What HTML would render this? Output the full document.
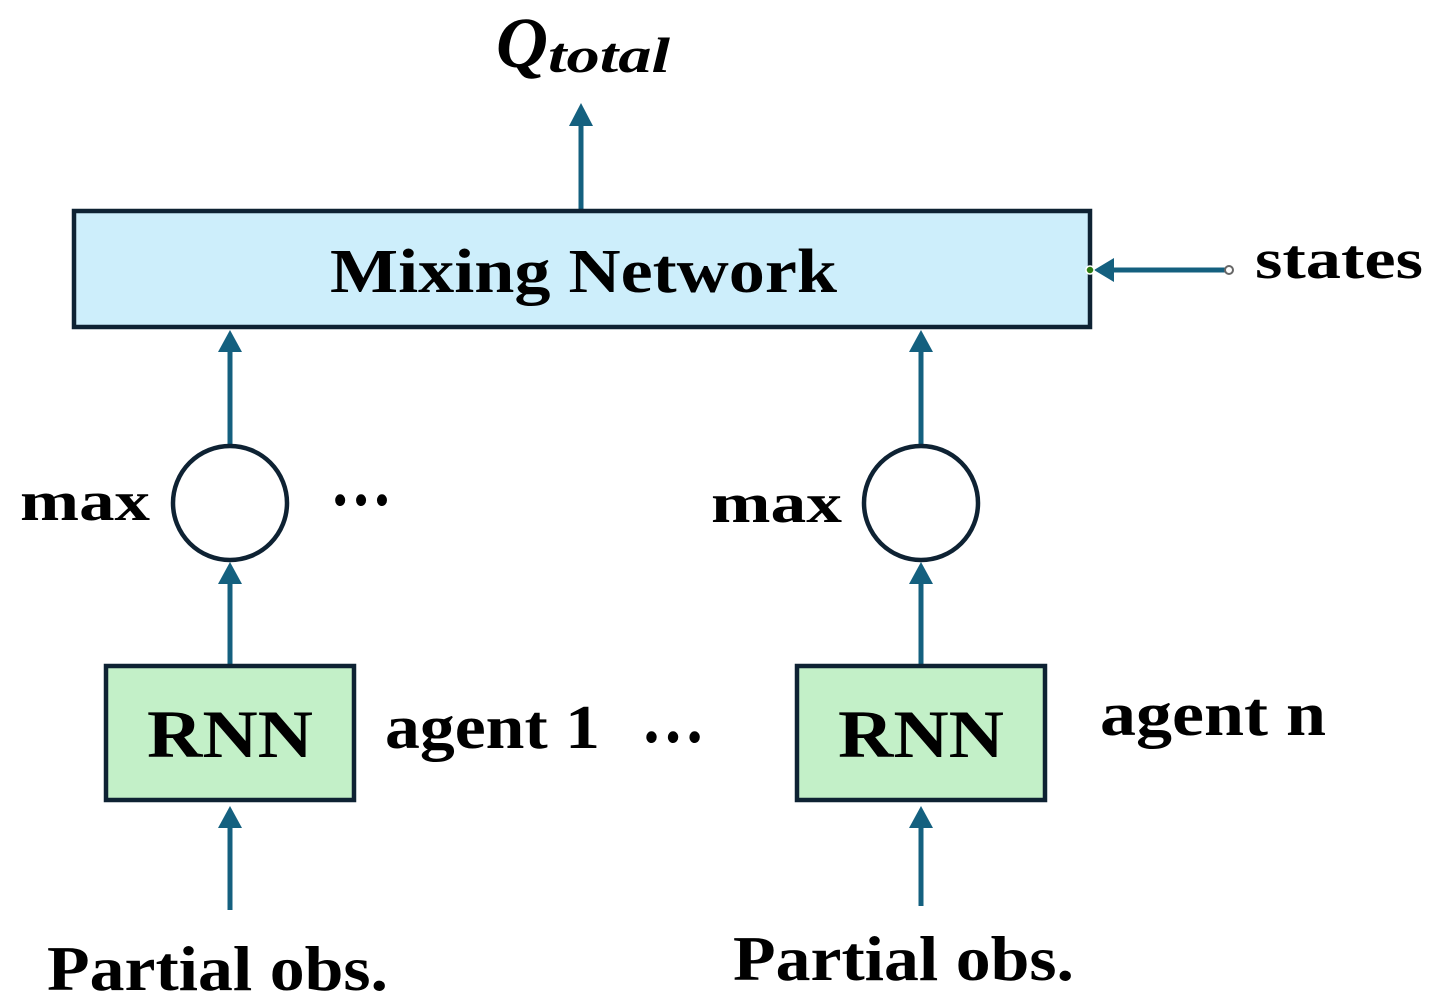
<!DOCTYPE html>
<html><head><style>html,body{margin:0;padding:0;background:#fff;}svg{display:block}</style></head><body>
<svg width="1445" height="1008" xmlns="http://www.w3.org/2000/svg" font-family="'Liberation Serif', serif" font-weight="bold">
<g stroke="#14607f" stroke-width="5" fill="none">
<line x1="581" y1="210" x2="581" y2="126"/>
<line x1="230" y1="444" x2="230" y2="352"/>
<line x1="230" y1="665" x2="230" y2="584"/>
<line x1="230" y1="910" x2="230" y2="828"/>
<line x1="921" y1="444" x2="921" y2="352"/>
<line x1="921" y1="665" x2="921" y2="584"/>
<line x1="921" y1="906" x2="921" y2="828"/>
<line x1="1228" y1="270" x2="1114" y2="270"/>
</g>
<g fill="#14607f">
<path d="M569,126L593,126L581,103z"/>
<path d="M218,352L242,352L230,330z"/>
<path d="M218,584L242,584L230,562z"/>
<path d="M218,828L242,828L230,806z"/>
<path d="M909,352L933,352L921,330z"/>
<path d="M909,584L933,584L921,562z"/>
<path d="M909,828L933,828L921,806z"/>
<path d="M1114,258L1114,282L1094,270z"/>
</g>
<rect x="74" y="211" width="1016" height="116" fill="#cdeefb" stroke="#0e2233" stroke-width="4.5"/>
<circle cx="1090" cy="270" r="4" fill="#2e7d12" stroke="#fff" stroke-width="1.5"/>
<circle cx="1229" cy="270" r="4" fill="#fff" stroke="#666" stroke-width="2"/>
<circle cx="230" cy="503" r="57" fill="#fff" stroke="#0e2233" stroke-width="4.5"/>
<circle cx="921" cy="503" r="57" fill="#fff" stroke="#0e2233" stroke-width="4.5"/>
<rect x="106" y="666" width="248" height="134" fill="#c3f0c8" stroke="#0e2233" stroke-width="4.5"/>
<rect x="797" y="666" width="248" height="134" fill="#c3f0c8" stroke="#0e2233" stroke-width="4.5"/>
<g fill="#000">
<text x="496" y="67" font-size="72" font-style="italic">Q</text>
<text x="548" y="72" font-size="50" font-style="italic" textLength="122" lengthAdjust="spacingAndGlyphs">total</text>
<text x="330" y="292" font-size="62" textLength="507" lengthAdjust="spacingAndGlyphs">Mixing Network</text>
<text x="1255" y="278" font-size="56" textLength="168" lengthAdjust="spacingAndGlyphs">states</text>
<text x="20" y="520" font-size="56" textLength="130" lengthAdjust="spacingAndGlyphs">max</text>
<text x="711" y="522" font-size="56" textLength="131" lengthAdjust="spacingAndGlyphs">max</text>
<text x="330" y="505" font-size="72" textLength="62" lengthAdjust="spacingAndGlyphs">…</text>
<text x="147" y="757" font-size="68" textLength="166" lengthAdjust="spacingAndGlyphs">RNN</text>
<text x="838" y="757" font-size="68" textLength="166" lengthAdjust="spacingAndGlyphs">RNN</text>
<text x="385" y="748" font-size="62" textLength="215" lengthAdjust="spacingAndGlyphs">agent 1</text>
<text x="641" y="742" font-size="72" textLength="64" lengthAdjust="spacingAndGlyphs">…</text>
<text x="1100" y="735" font-size="62" textLength="226" lengthAdjust="spacingAndGlyphs">agent n</text>
<text x="47" y="990" font-size="64" textLength="341" lengthAdjust="spacingAndGlyphs">Partial obs.</text>
<text x="733" y="980" font-size="64" textLength="341" lengthAdjust="spacingAndGlyphs">Partial obs.</text>
</g>
</svg>
</body></html>
